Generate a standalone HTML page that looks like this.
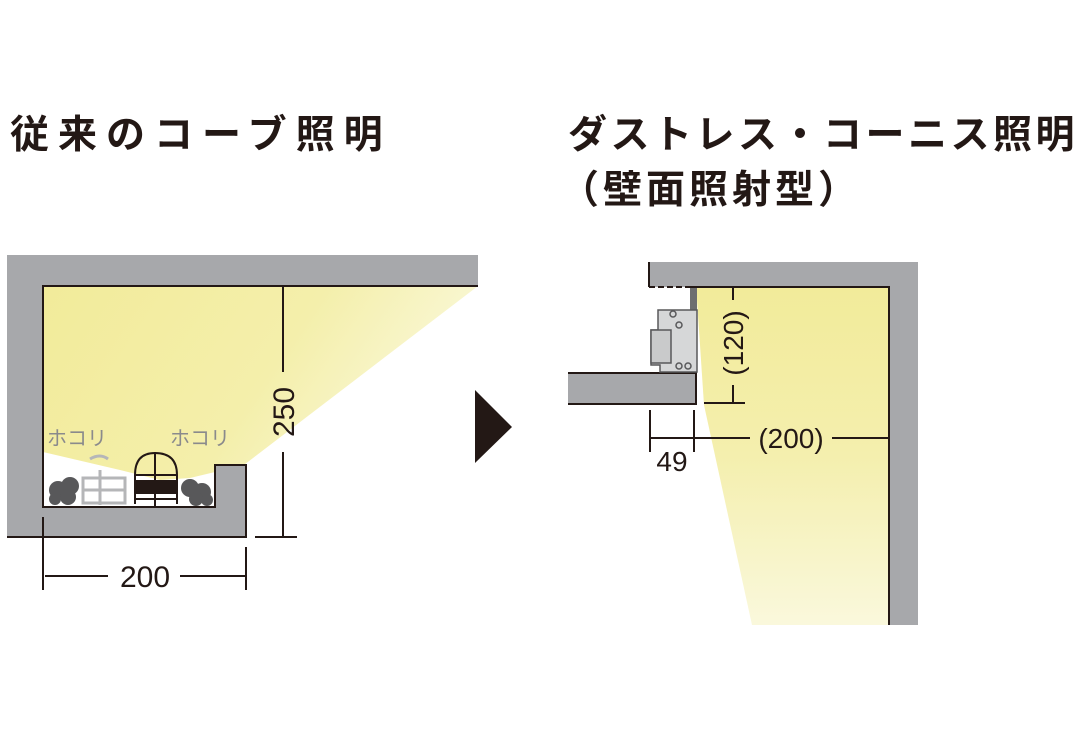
<!DOCTYPE html>
<html><head><meta charset="utf-8"><style>
html,body{margin:0;padding:0;background:#fff;width:1080px;height:755px;overflow:hidden}
svg{display:block}
.t{font-family:"Liberation Sans","Noto Sans CJK JP",sans-serif;font-weight:bold;fill:#231815}
.n{font-family:"Liberation Sans","Noto Sans CJK JP",sans-serif;fill:#231815}
</style></head><body>
<svg width="1080" height="755" viewBox="0 0 1080 755" xmlns="http://www.w3.org/2000/svg">
<defs>
<linearGradient id="g1" x1="0" y1="0" x2="1" y2="0.3">
<stop offset="0" stop-color="#f2eb9a"/><stop offset="0.6" stop-color="#f4efab"/><stop offset="1" stop-color="#faf8d8"/>
</linearGradient>
<linearGradient id="g2" x1="0" y1="0" x2="0" y2="1">
<stop offset="0" stop-color="#f2eb9a"/><stop offset="0.5" stop-color="#f4efae"/><stop offset="1" stop-color="#faf8dc"/>
</linearGradient>
</defs>
<text class="t" x="10" y="148" font-size="39" letter-spacing="9">従来のコーブ照明</text>
<text class="t" x="568" y="148" font-size="39" letter-spacing="3.5">ダストレス・コーニス照明</text>
<text class="t" x="560" y="203" font-size="39" letter-spacing="4">（壁面照射型）</text>

<polygon points="43,286 478,286 240,468 215,472 190,478 160,480 120,470 43,452" fill="url(#g1)"/>
<path d="M7,255 H478 V286 H43 V507 H215 V465 H246 V537 H7 Z" fill="#a7a8ab"/>
<path d="M478,286 H43 V507 H215 V465 H246 V537 H7" fill="none" stroke="#231815" stroke-width="2"/>
<g fill="#58585a">
<circle cx="58" cy="490" r="9"/><circle cx="70" cy="486" r="9"/><circle cx="68" cy="497" r="8"/><circle cx="55" cy="499" r="6"/>
<circle cx="190" cy="488" r="9"/><circle cx="202" cy="492" r="9"/><circle cx="196" cy="499" r="7"/><circle cx="207" cy="500" r="6"/>
</g>
<g stroke="#b5b6b8" stroke-width="3" fill="none">
<rect x="83" y="478" width="42" height="25"/><line x1="83" y1="490" x2="125" y2="490"/><line x1="100" y1="470" x2="100" y2="505"/>
<path d="M90,459 q10,-6 18,0"/>
</g>
<g stroke="#231815" stroke-width="2" fill="none">
<path d="M135,504 V475 Q135,453 155,453 Q177,453 177,475 V504"/>
<line x1="155" y1="452" x2="155" y2="506"/>
<line x1="135" y1="475" x2="177" y2="475"/>
</g>
<rect x="134" y="480" width="44" height="14" fill="#231815"/>
<line x1="134" y1="499" x2="178" y2="499" stroke="#231815" stroke-width="2"/>
<text class="n" x="47" y="445" font-size="20" style="fill:#8a8a8c">ホコリ</text>
<text class="n" x="170" y="445" font-size="20" style="fill:#8a8a8c">ホコリ</text>
<g stroke="#231815" stroke-width="2">
<line x1="283" y1="286" x2="283" y2="372"/><line x1="283" y1="452" x2="283" y2="537"/><line x1="255" y1="537" x2="297" y2="537"/>
<line x1="43" y1="517" x2="43" y2="590"/><line x1="246" y1="547" x2="246" y2="590"/>
<line x1="45" y1="576" x2="108" y2="576"/><line x1="180" y1="576" x2="246" y2="576"/>
</g>
<text class="n" font-size="30" transform="translate(294,412) rotate(-90)" text-anchor="middle">250</text>
<text class="n" x="145" y="587" font-size="30" text-anchor="middle">200</text>

<polygon points="475,390 512,427 475,463" fill="#231815"/>

<polygon points="697,288 888,288 888,625 752,625 704,405 697,300" fill="url(#g2)"/>
<path d="M648,262 H918 V625 H888 V287 H648 Z" fill="#a7a8ab"/>
<path d="M690,287 H889 V625" fill="none" stroke="#231815" stroke-width="2"/>
<line x1="649" y1="262" x2="649" y2="287" stroke="#231815" stroke-width="2"/>
<line x1="649" y1="287" x2="690" y2="287" stroke="#231815" stroke-width="2" stroke-dasharray="6,3"/>
<rect x="568" y="373" width="128" height="31" fill="#a7a8ab"/>
<path d="M568,373 H696 V404 H568" fill="none" stroke="#231815" stroke-width="2"/>
<rect x="690" y="288" width="7" height="22" fill="#6d6e70"/>
<path d="M658,310 H697 V372 H660 V365 H651 V330 H658 Z" fill="#d6d7d8" stroke="#58585a" stroke-width="1.5"/>
<rect x="651" y="330" width="20" height="33" fill="#c9cacb" stroke="#58585a" stroke-width="1.5"/>
<g fill="none" stroke="#58585a" stroke-width="1.5"><circle cx="673" cy="314" r="3"/><circle cx="679" cy="325" r="3"/><circle cx="679" cy="366" r="3"/><circle cx="688" cy="366" r="3"/></g>
<g stroke="#231815" stroke-width="2">
<line x1="733" y1="288" x2="733" y2="300"/><line x1="733" y1="385" x2="733" y2="403"/><line x1="704" y1="403" x2="745" y2="403"/>
<line x1="650" y1="410" x2="650" y2="452"/><line x1="694" y1="410" x2="694" y2="452"/>
<line x1="650" y1="438" x2="750" y2="438"/><line x1="832" y1="438" x2="888" y2="438"/>
</g>
<text class="n" font-size="28" transform="translate(743,343) rotate(-90)" text-anchor="middle">(120)</text>
<text class="n" x="791" y="448" font-size="28" text-anchor="middle">(200)</text>
<text class="n" x="672" y="471" font-size="28" text-anchor="middle">49</text>
</svg>
</body></html>
